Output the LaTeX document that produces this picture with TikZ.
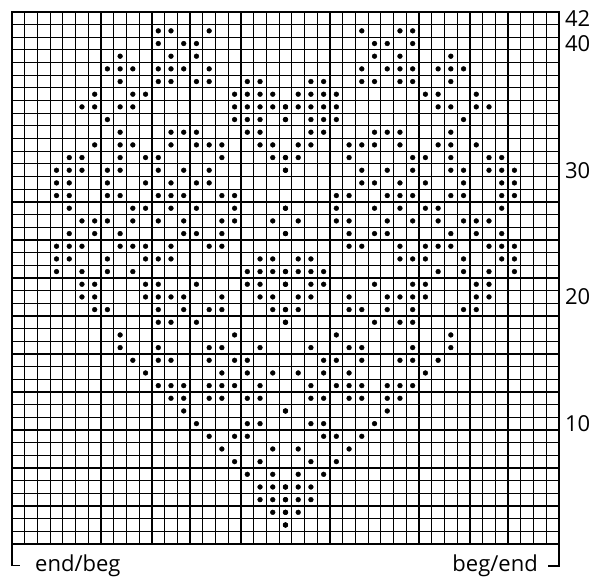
\documentclass[tikz,border=0pt]{standalone}
\usepackage{fontspec}
\setmainfont{Open Sans}
\usepackage{tikz}
\tikzset{>=latex}
\colorlet{gridcol}{black}
\colorlet{dotcol}{black}
\tikzset{
    rowlabel/.style={anchor=west, inner sep=0pt, font=\fontsize{22}{26}\selectfont},
    endlabel/.style={inner sep=0pt, font=\fontsize{22}{26}\selectfont},
    bracket/.style={gridcol, line width=1.3pt},
}

\begin{document}
\begin{tikzpicture}[x=12.72pt, y=12.67pt]
    \useasboundingbox (-12pt, -32pt) rectangle (596pt, 544pt);
    \begin{scope}

        % chart grid, 43 stitches by 42 rows
        \foreach \x in {1,...,42}
        {
            \draw[gridcol, line width=1.2pt] (\x, 0) -- (\x, 42);
        }
        \foreach \y in {1,...,41}
        {
            \draw[gridcol, line width=1.2pt] (0, \y) -- (43, \y);
        }
        \draw[gridcol, line width=2.2pt] (0, 0) rectangle (43, 42);

        % purl dots, left half given, right half mirrored
        \foreach \r/\cols in {
            41/{12,13,16},
            40/{12,14,15},
            39/{9,13,15},
            38/{8,9,10,12,13,14,16},
            37/{9,12,13,15,16,19,20},
            36/{7,10,11,18,19,20,21},
            35/{6,7,9,10,18,19,20,21,22},
            34/{8,18,19,20,22},
            33/{9,13,14,15,19,20},
            32/{7,9,10,13,15,16,17,20,21},
            31/{5,6,9,11,12,17,21,22},
            30/{4,5,6,8,9,12,14,16,22},
            29/{4,5,8,11,13,15,16},
            28/{4,5,8,9,12,13,14,17,18},
            27/{5,10,11,13,15,18,22},
            26/{6,7,8,10,12,14,17,18,21},
            25/{5,7,9,14,15,17,22},
            24/{4,5,6,9,10,11,13,16,17},
            23/{4,5,8,11,12,13,20,21},
            22/{4,6,8,10,19,20,21,22},
            21/{6,7,11,12,15,19,20,22},
            20/{6,7,11,12,13,14,17,20,21},
            19/{7,8,12,14,16,17,21,22},
            18/{12,13,15,22},
            17/{9,18},
            16/{9,12,16,17,20},
            15/{10,12,13,16,18,19},
            14/{11,17,19,21},
            13/{12,13,14,16,17,18,20},
            12/{13,14,16,17,19,20},
            11/{14,22},
            10/{15,19,20},
            9/{16,18,19},
            8/{17,21},
            7/{18,20},
            6/{19,21},
            5/{20,21,22},
            4/{20,21,22},
            3/{21,22},
            2/{22}}
        {
            \foreach \c in \cols
            {
                \filldraw[dotcol] ({\c-0.5}, {\r-0.5}) circle (2.4pt);
                \filldraw[dotcol] ({43.5-\c}, {\r-0.5}) circle (2.4pt);
            }
        }

        % row numbers
        \foreach \r in {42,40,30,20,10}
        {
            \node[rowlabel] (row\r) at (43.47, {\r-0.5}) {\r};
        }

        % beginning and end of rows
        \coordinate (gridSW) at (0, 0);
        \coordinate (gridSE) at (43, 0);
        \coordinate (leftfoot) at (0, -1.72);
        \coordinate (rightfoot) at (43, -1.74);
        \draw[bracket] (gridSW) -- (leftfoot) -- ++(0.63, 0);
        \draw[bracket] (gridSE) -- (rightfoot) -- ++(-0.86, 0);
        \node[endlabel, anchor=base west] (endbeg) at (1.81, -2.2) {end/beg};
        \node[endlabel, anchor=base east] (begend) at (41.35, -2.2) {beg/end};
    \end{scope}
\end{tikzpicture}
\end{document}
